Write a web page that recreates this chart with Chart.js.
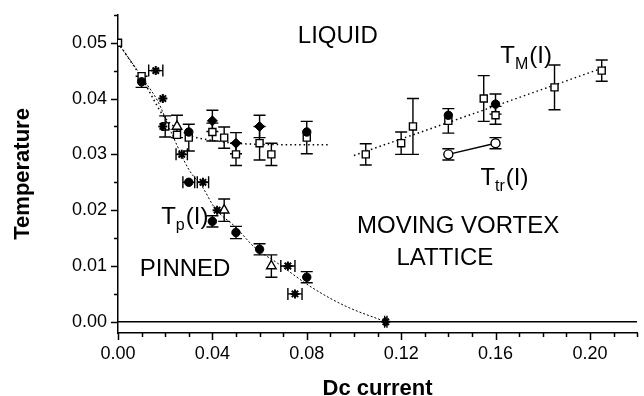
<!DOCTYPE html>
<html lang="en">
<head>
<meta charset="UTF-8" />
<title>Temperature vs Dc current</title>
<script src="https://cdn.jsdelivr.net/npm/chart.js@4.4.0/dist/chart.umd.min.js"></script>
<style>
  html, body { margin: 0; padding: 0; background: #ffffff; }
</style>
</head>
<body>
<canvas id="phaseChart" width="644" height="396"></canvas>
<script>
// ---- data ----
// T_M(I): open squares
const sqX   = [0.000, 0.010, 0.020, 0.025, 0.030, 0.040, 0.045, 0.050, 0.060, 0.065, 0.080, 0.105, 0.120, 0.125, 0.140, 0.155, 0.160, 0.185, 0.205];
const sqY   = [0.050, 0.044, 0.035, 0.0335, 0.033, 0.034, 0.033, 0.030, 0.032, 0.030, 0.033, 0.030, 0.032, 0.035, 0.036, 0.040, 0.037, 0.042, 0.045];
const sqErr = [0, 0, 0.0019, 0, 0.0024, 0.0016, 0.0019, 0.002, 0.003, 0.002, 0.0029, 0.0019, 0.002, 0.005, 0.0022, 0.0041, 0.0016, 0.004, 0.0019];

// filled circles
const dotX    = [0.010, 0.030, 0.080, 0.140, 0.160, 0.030, 0.040, 0.050, 0.060, 0.080];
const dotY    = [0.043, 0.034, 0.034, 0.037, 0.039, 0.025, 0.018, 0.016, 0.013, 0.008];
const dotYErr = [0.001, 0, 0, 0, 0.0018, 0, 0.001, 0.0011, 0.001, 0.001];
const dotXErr = [0, 0, 0, 0, 0, 0.0025, 0, 0, 0, 0];

// filled diamonds
const dmX   = [0.040, 0.050, 0.060];
const dmY   = [0.036, 0.032, 0.035];
const dmErr = [0.0019, 0.0019, 0.002];

// open triangles
const triX   = [0.025, 0.045, 0.065];
const triY   = [0.035, 0.020, 0.010];
const triErr = [0.002, 0.002, 0.002];

// asterisks
const starX    = [0.016, 0.019, 0.019, 0.027, 0.036, 0.042, 0.072, 0.075, 0.1135];
const starY    = [0.045, 0.040, 0.035, 0.030, 0.025, 0.020, 0.010, 0.005, 0.000];
const starXErr = [0.003, 0, 0, 0.0024, 0.0024, 0, 0.003, 0.003, 0.0005];

// T_tr(I): open circles
const trX   = [0.140, 0.160];
const trY   = [0.030, 0.032];
const trErr = [0.001, 0.001];

// guide curves
const tmFitX1 = [0.000, 0.010, 0.020, 0.030, 0.040, 0.050, 0.060, 0.090];
const tmFitY1 = [0.050, 0.0437, 0.0365, 0.0335, 0.0325, 0.0320, 0.0318, 0.0317];
const tmFitX2 = [0.100, 0.150, 0.207];
const tmFitY2 = [0.0298, 0.0372, 0.0457];
const tpFitX  = [0.000, 0.011, 0.017, 0.0225, 0.030, 0.036, 0.041, 0.050, 0.058, 0.068, 0.082, 0.096, 0.1135];
const tpFitY  = [0.050, 0.0433, 0.0394, 0.034, 0.0273, 0.024, 0.0204, 0.0169, 0.0133, 0.0104, 0.0062, 0.0029, 0.000];

// axis range
const xMin = 0, xMax = 0.22;
const yMin = -0.002, yMax = 0.055;

const pts = (xs, ys, yErr, xErr) =>
  xs.map((x, i) => ({ x: x, y: ys[i], yErr: yErr ? yErr[i] : 0, xErr: xErr ? xErr[i] : 0 }));

const isMajorX = (v) => Math.round(v * 100) % 4 === 0;
const isMajorY = (v) => Math.round(v * 1000) % 10 === 0;

const FONT = "'Liberation Sans', Arial, Helvetica, sans-serif";
Chart.defaults.font.family = FONT;
Chart.defaults.color = "#000";

// error bars drawn under the markers
const errorBarPlugin = {
  id: "errorBars",
  beforeDatasetsDraw(chart) {
    const { ctx, scales: { x, y } } = chart;
    const cap = 6;
    ctx.save();
    ctx.strokeStyle = "#000";
    ctx.lineWidth = 1.4;
    chart.data.datasets.forEach((ds) => {
      ds.data.forEach((p) => {
        const px = x.getPixelForValue(p.x);
        const py = y.getPixelForValue(p.y);
        ctx.beginPath();
        if (p.yErr) {
          const t = y.getPixelForValue(p.y + p.yErr);
          const b = y.getPixelForValue(p.y - p.yErr);
          ctx.moveTo(px, t); ctx.lineTo(px, b);
          ctx.moveTo(px - cap, t); ctx.lineTo(px + cap, t);
          ctx.moveTo(px - cap, b); ctx.lineTo(px + cap, b);
        }
        if (p.xErr) {
          const l = x.getPixelForValue(p.x - p.xErr);
          const r = x.getPixelForValue(p.x + p.xErr);
          ctx.moveTo(l, py); ctx.lineTo(r, py);
          ctx.moveTo(l, py - cap); ctx.lineTo(l, py + cap);
          ctx.moveTo(r, py - cap); ctx.lineTo(r, py + cap);
        }
        ctx.stroke();
      });
    });
    ctx.restore();
  },
};

// outward tick marks: long on labelled ticks, short in between
const tickPlugin = {
  id: "tickMarks",
  afterDraw(chart) {
    const { ctx, chartArea, scales: { x, y } } = chart;
    ctx.save();
    ctx.strokeStyle = "#000";
    ctx.lineWidth = 1.5;
    ctx.beginPath();
    x.ticks.forEach((t) => {
      const px = Math.round(x.getPixelForValue(t.value)) + 0.5;
      const len = isMajorX(t.value) ? 7 : 4;
      ctx.moveTo(px, chartArea.bottom);
      ctx.lineTo(px, chartArea.bottom + len);
    });
    y.ticks.forEach((t) => {
      const py = Math.round(y.getPixelForValue(t.value)) + 0.5;
      const len = isMajorY(t.value) ? 7 : 4;
      ctx.moveTo(chartArea.left, py);
      ctx.lineTo(chartArea.left - len, py);
    });
    ctx.stroke();
    ctx.restore();
  },
};

// region names and curve labels (left edge, baseline)
const textPlugin = {
  id: "phaseText",
  afterDatasetsDraw(chart, args, opts) {
    const { ctx, scales: { x, y } } = chart;
    const big = "24px " + FONT;
    const small = "16px " + FONT;
    ctx.save();
    ctx.fillStyle = "#000";
    ctx.textBaseline = "alphabetic";
    ctx.textAlign = "left";
    opts.labels.forEach((l) => {
      const px = x.getPixelForValue(l.x);
      const py = y.getPixelForValue(l.y);
      ctx.font = big;
      if (!l.sub) {
        ctx.fillText(l.text, px, py);
        return;
      }
      ctx.fillText("T", px, py);
      let w = ctx.measureText("T").width;
      ctx.font = small;
      ctx.fillText(l.sub, px + w, py + 6);
      w += ctx.measureText(l.sub).width;
      ctx.font = big;
      ctx.fillText("(I)", px + w + 1, py);
    });
    ctx.restore();
  },
};

const markerStyle = (style, radius, fill, width) => ({
  showLine: false,
  pointStyle: style,
  pointRadius: radius,
  pointHoverRadius: radius,
  pointBackgroundColor: fill,
  pointBorderColor: "#000",
  pointBorderWidth: width,
});

const guideStyle = (dash, width) => ({
  showLine: true,
  borderColor: "#000",
  borderWidth: width,
  borderDash: dash,
  pointRadius: 0,
  cubicInterpolationMode: "monotone",
  fill: false,
});

new Chart(document.getElementById("phaseChart"), {
  type: "scatter",
  data: {
    datasets: [
      { label: "zero", data: [{ x: xMin, y: 0 }, { x: xMax, y: 0 }], ...guideStyle([], 1.5), order: 10 },
      { label: "TM fit a", data: pts(tmFitX1, tmFitY1), ...guideStyle([1.5, 3], 1.5), order: 9 },
      { label: "TM fit b", data: pts(tmFitX2, tmFitY2), ...guideStyle([1.5, 3], 1.5), order: 9 },
      { label: "Tp fit", data: pts(tpFitX, tpFitY), ...guideStyle([2, 2], 1), order: 9 },
      { label: "Ttr", data: pts(trX, trY, trErr), ...markerStyle("circle", 4.5, "#fff", 1.4),
        showLine: true, borderColor: "#000", borderWidth: 1.5, order: 5 },
      { label: "squares", data: pts(sqX, sqY, sqErr), ...markerStyle("rect", 5, "#fff", 1.4), order: 3 },
      { label: "triangles", data: pts(triX, triY, triErr), ...markerStyle("triangle", 5.5, "#fff", 1.4), order: 4 },
      { label: "circles", data: pts(dotX, dotY, dotYErr, dotXErr), ...markerStyle("circle", 4.2, "#000", 1), order: 2 },
      { label: "diamonds", data: pts(dmX, dmY, dmErr), ...markerStyle("rectRot", 5, "#000", 1), order: 2 },
      { label: "stars", data: pts(starX, starY, null, starXErr), ...markerStyle("star", 4.5, "#000", 2), order: 1 },
    ],
  },
  options: {
    responsive: false,
    animation: false,
    layout: { padding: { top: 13, right: 0, bottom: 0, left: 0 } },
    plugins: {
      legend: { display: false },
      tooltip: { enabled: false },
      phaseText: {
        labels: [
          { text: "LIQUID", x: 0.0762, y: 0.0500 },
          { text: "MOVING VORTEX", x: 0.1013, y: 0.0160 },
          { text: "LATTICE", x: 0.118, y: 0.0101 },
          { text: "PINNED", x: 0.0092, y: 0.0083 },
          { sub: "p", x: 0.0183, y: 0.0175 },
          { sub: "M", x: 0.162, y: 0.0463 },
          { sub: "tr", x: 0.1536, y: 0.0246 },
        ],
      },
    },
    scales: {
      x: {
        type: "linear",
        min: xMin,
        max: xMax,
        afterFit: (s) => { s.height = 63; },
        border: { color: "#000", width: 1.5 },
        grid: { drawOnChartArea: false, tickLength: 7, tickColor: "rgba(0,0,0,0)" },
        ticks: {
          stepSize: 0.01,
          includeBounds: false,
          autoSkip: false,
          maxRotation: 0,
          padding: 3,
          font: { size: 18 },
          callback: (v) => (isMajorX(v) ? v.toFixed(2) : ""),
        },
        title: {
          display: true,
          text: "Dc current",
          font: { size: 22, weight: "bold" },
          padding: { top: 0, bottom: -6 },
        },
      },
      y: {
        type: "linear",
        min: yMin,
        max: yMax,
        afterFit: (s) => { s.width = 118; },
        border: { color: "#000", width: 1.5 },
        grid: { drawOnChartArea: false, tickLength: 7, tickColor: "rgba(0,0,0,0)" },
        ticks: {
          stepSize: 0.005,
          includeBounds: false,
          autoSkip: false,
          padding: 4,
          font: { size: 18 },
          callback: (v) => (isMajorY(v) ? v.toFixed(2) : ""),
        },
        title: {
          display: true,
          text: "Temperature",
          font: { size: 22, weight: "bold" },
          padding: { top: 10, bottom: 0 },
        },
      },
    },
  },
  plugins: [errorBarPlugin, textPlugin, tickPlugin],
});
</script>
</body>
</html>
